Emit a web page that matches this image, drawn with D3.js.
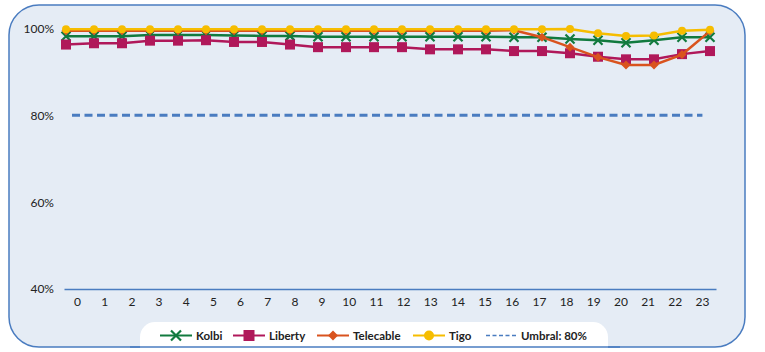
<!DOCTYPE html>
<html>
<head>
<meta charset="utf-8">
<script src="https://cdn.jsdelivr.net/npm/d3@7"></script>
<style>
  body { margin: 0; background: #fff; }
  text { font-family: Lato, "Noto Sans", sans-serif; fill: #222; }
</style>
</head>
<body>
<div id="chart"></div>
<script>
// hours of the day
var hours = d3.range(0, 24);
var yTicks = [40, 60, 80, 100];
var threshold = 80;

// availability (%) per operator
var kolbi     = [98.2, 98.2, 98.2, 98.5, 98.5, 98.5, 98.4, 98.3, 98.3, 98.1, 98.1, 98.1, 98.1, 98.1, 98.1, 98.1, 98.0, 98.0, 97.6, 97.3, 96.7, 97.3, 98.0, 98.0];
var liberty   = [96.3, 96.6, 96.6, 97.2, 97.2, 97.3, 96.9, 96.9, 96.3, 95.7, 95.7, 95.7, 95.7, 95.2, 95.2, 95.2, 94.8, 94.8, 94.3, 93.5, 92.9, 92.9, 94.1, 94.8];
var telecable = [99.5, 99.5, 99.5, 99.5, 99.5, 99.5, 99.5, 99.5, 99.5, 99.5, 99.5, 99.5, 99.5, 99.5, 99.5, 99.5, 99.6, 98.0, 95.7, 93.4, 91.6, 91.6, 94.0, 99.4];
var tigo      = [99.8, 99.8, 99.8, 99.8, 99.8, 99.8, 99.8, 99.8, 99.8, 99.8, 99.8, 99.8, 99.8, 99.8, 99.8, 99.8, 99.8, 99.8, 99.9, 98.9, 98.3, 98.4, 99.5, 99.7];

var series = [
  {name: "Kolbi", values: kolbi, color: "#117a3e", marker: "cross"},
  {name: "Liberty", values: liberty, color: "#b0185a", marker: "square"},
  {name: "Telecable", values: telecable, color: "#d9531e", marker: "diamond"},
  {name: "Tigo", values: tigo, color: "#f6bd00", marker: "circle"}
];

var width = 765, height = 352;
var blue = "#4a7cc0";

var svg = d3.select("#chart").append("svg")
  .attr("width", width)
  .attr("height", height);

// panel background
svg.append("rect")
  .attr("x", 9).attr("y", 5)
  .attr("width", 736).attr("height", 342)
  .attr("rx", 30).attr("ry", 30)
  .style("fill", "#e5ecf5")
  .style("stroke", blue)
  .style("stroke-width", 1.5);

// scales
var y = d3.scaleLinear().domain([40, 100]).range([289, 28.5]);
var xAxisScale = d3.scaleBand().domain(hours).range([64, 716]);
var x = d3.scalePoint().domain(hours).range([66, 710]);

// y axis labels
var yAxis = d3.axisLeft(y).tickValues(yTicks).tickSize(0).tickPadding(0)
  .tickFormat(function(d) { return d + "%"; });
var gy = svg.append("g")
  .attr("transform", "translate(54,0)")
  .call(yAxis);
gy.select(".domain").remove();
gy.selectAll("text").style("font-size", "12px").style("font-family", "Lato, sans-serif").style("fill", "#222");

// x axis
var xAxis = d3.axisBottom(xAxisScale).tickSize(0).tickPadding(8);
var gx = svg.append("g")
  .attr("transform", "translate(0,289)")
  .call(xAxis);
gx.select(".domain").style("stroke", blue).style("stroke-width", 1.5);
gx.selectAll("text").style("font-size", "12px").style("font-family", "Lato, sans-serif").style("fill", "#222");

// threshold line
svg.append("line")
  .attr("x1", xAxisScale(0) + 8)
  .attr("x2", xAxisScale(23) + xAxisScale.bandwidth() / 2)
  .attr("y1", y(threshold)).attr("y2", y(threshold))
  .style("stroke", blue)
  .style("stroke-width", 3)
  .style("stroke-dasharray", "8,4.5");

function drawMarker(g, type, cx, cy, color, size) {
  if (type === "cross") {
    var s = size;
    g.append("path")
      .attr("d", "M" + (cx - s) + "," + (cy - s) + "L" + (cx + s) + "," + (cy + s) +
                 "M" + (cx - s) + "," + (cy + s) + "L" + (cx + s) + "," + (cy - s))
      .style("stroke", color).style("stroke-width", 2.2).style("fill", "none");
  } else if (type === "square") {
    g.append("rect")
      .attr("x", cx - size).attr("y", cy - size)
      .attr("width", size * 2).attr("height", size * 2)
      .style("fill", color);
  } else if (type === "diamond") {
    g.append("path")
      .attr("d", "M" + cx + "," + (cy - size) + "L" + (cx + size) + "," + cy +
                 "L" + cx + "," + (cy + size) + "L" + (cx - size) + "," + cy + "Z")
      .style("fill", color);
  } else {
    g.append("circle").attr("cx", cx).attr("cy", cy).attr("r", size).style("fill", color);
  }
}

var markerSize = {cross: 4.5, square: 5, diamond: 4.5, circle: 4};

var line = d3.line()
  .x(function(d, i) { return x(hours[i]); })
  .y(function(d) { return y(d); });

series.forEach(function(s) {
  var g = svg.append("g").attr("class", "series");
  g.append("path")
    .datum(s.values)
    .attr("d", line)
    .style("fill", "none")
    .style("stroke", s.color)
    .style("stroke-width", 2.5);
  s.values.forEach(function(v, i) {
    drawMarker(g, s.marker, x(hours[i]), y(v), s.color, markerSize[s.marker]);
  });
});

// legend
svg.append("rect")
  .attr("x", 140).attr("y", 322)
  .attr("width", 468).attr("height", 40)
  .attr("rx", 15).attr("ry", 15)
  .style("fill", "#fff");
// re-draw the panel bottom border over the legend box
svg.append("line")
  .attr("x1", 130).attr("x2", 620)
  .attr("y1", 347).attr("y2", 347)
  .style("stroke", blue).style("stroke-width", 1.5);
svg.append("rect")
  .attr("x", 0).attr("y", 348)
  .attr("width", width).attr("height", 4)
  .style("fill", "#fff");

var legendItems = [
  {name: "Kolbi", color: "#117a3e", marker: "cross", x: 160},
  {name: "Liberty", color: "#b0185a", marker: "square", x: 233},
  {name: "Telecable", color: "#d9531e", marker: "diamond", x: 317},
  {name: "Tigo", color: "#f6bd00", marker: "circle", x: 413},
  {name: "Umbral: 80%", color: blue, marker: "dash", x: 486}
];
var ly = 335.5;
legendItems.forEach(function(d) {
  var g = svg.append("g");
  if (d.marker === "dash") {
    g.append("line")
      .attr("x1", d.x).attr("x2", d.x + 31)
      .attr("y1", ly).attr("y2", ly)
      .style("stroke", d.color).style("stroke-width", 1.5)
      .style("stroke-dasharray", "4,2.5");
  } else {
    g.append("line")
      .attr("x1", d.x).attr("x2", d.x + 32)
      .attr("y1", ly).attr("y2", ly)
      .style("stroke", d.color).style("stroke-width", 2);
    drawMarker(g, d.marker, d.x + 16, ly, d.color, d.marker === "square" ? 5.5 : 5);
  }
  g.append("text")
    .attr("x", d.x + (d.marker === "dash" ? 35 : 36))
    .attr("y", ly)
    .attr("dy", "0.35em")
    .style("font-size", "11.5px")
    .style("font-weight", "bold")
    .text(d.name);
});
</script>
</body>
</html>
